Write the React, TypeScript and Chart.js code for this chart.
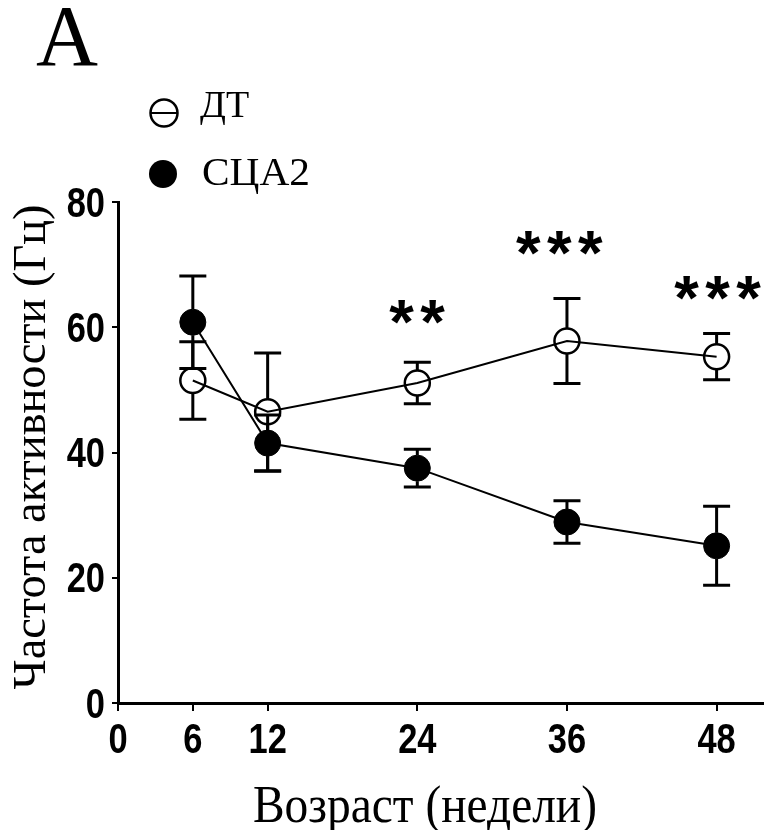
import React, { useEffect, useRef } from "react";
import { Chart, registerables } from "chart.js";

Chart.register(...registerables);

// ---- data ----
const weeks = [6, 12, 24, 36, 48];
const dtMean = [51.5, 46.5, 51.1, 57.8, 55.3];
const dtErr = [6.2, 9.4, 3.3, 6.8, 3.7];
const scaMean = [60.8, 41.5, 37.5, 28.9, 25.1];
const scaErr = [7.4, 4.5, 3.0, 3.4, 6.3];
const xTicks = [0, 6, 12, 24, 36, 48];
const yTicks = [0, 20, 40, 60, 80];
const sigX = [24, 35.4, 48.1];
const sigY = [62.4, 73.5, 66.3];
const sigLabels = ["**", "***", "***"];
const seriesNames = ["ДТ", "СЦА2"];
const panelLabel = "A";
const xTitle = "Возраст (недели)";
const yTitle = "Частота активности (Гц)";

const SERIF = "'Liberation Serif', 'Times New Roman', Times, serif";
const SANS = "'Liberation Sans', Arial, Helvetica, sans-serif";

function fitText(ctx: CanvasRenderingContext2D, text: string, x: number, y: number, font: string, width: number | null, align: CanvasTextAlign) {
  ctx.save();
  ctx.font = font;
  const w = ctx.measureText(text).width;
  const s = width ? width / w : 1;
  ctx.translate(x, y);
  ctx.scale(s, 1);
  ctx.textAlign = align;
  ctx.textBaseline = "alphabetic";
  ctx.fillStyle = "#000";
  ctx.fillText(text, 0, 0);
  ctx.restore();
}

// draw bold narrow digits: anchor box given by side
function drawTick(ctx: CanvasRenderingContext2D, text: string, x: number, y: number, mode: "right-middle" | "center-top") {
  const size = 42;
  const sx = 0.82;
  ctx.save();
  ctx.font = `bold ${size}px ${SANS}`;
  ctx.fillStyle = "#000";
  const m = ctx.measureText(text);
  const w = m.width * sx;
  const asc = m.actualBoundingBoxAscent;
  const desc = m.actualBoundingBoxDescent;
  let left: number;
  let base: number;
  if (mode === "right-middle") {
    left = x - w;
    base = y - (desc - asc) / 2;
  } else {
    left = x - w / 2;
    base = y + asc;
  }
  ctx.translate(left, base);
  ctx.scale(sx, 1);
  ctx.textAlign = "left";
  ctx.textBaseline = "alphabetic";
  ctx.fillText(text, 0, 0);
  ctx.restore();
}

const decorPlugin = {
  id: "decor",
  afterDatasetsDraw(chart: any) {
    const ctx: CanvasRenderingContext2D = chart.ctx;
    const ys = chart.scales.y;
    const xs = chart.scales.x;
    const errs = [dtErr, scaErr];
    const means = [dtMean, scaMean];
    const radii = [13, 13];
    ctx.save();
    ctx.strokeStyle = "#000";
    ctx.lineWidth = 3;
    ctx.lineCap = "butt";
    for (let d = 0; d < 2; d++) {
      const meta = chart.getDatasetMeta(d);
      meta.data.forEach((pt: any, j: number) => {
        const x = pt.x;
        const yc = pt.y;
        const r = radii[d];
        const yTop = ys.getPixelForValue(means[d][j] + errs[d][j]);
        const yBot = ys.getPixelForValue(means[d][j] - errs[d][j]);
        ctx.beginPath();
        if (yTop < yc - r) {
          ctx.moveTo(x, yc - r);
          ctx.lineTo(x, yTop);
        }
        ctx.moveTo(x - 13.5, yTop);
        ctx.lineTo(x + 13.5, yTop);
        if (yBot > yc + r) {
          ctx.moveTo(x, yc + r);
          ctx.lineTo(x, yBot);
        }
        ctx.moveTo(x - 13.5, yBot);
        ctx.lineTo(x + 13.5, yBot);
        ctx.stroke();
      });
    }
    ctx.restore();

    // significance stars
    ctx.save();
    ctx.fillStyle = "#000";
    ctx.font = `bold 100px ${SANS}`;
    const m = ctx.measureText("*");
    const gh = m.actualBoundingBoxAscent + m.actualBoundingBoxDescent;
    const size = (24 / gh) * 100;
    ctx.font = `bold ${size}px ${SANS}`;
    const m2 = ctx.measureText("*");
    const asc = m2.actualBoundingBoxAscent;
    const desc = m2.actualBoundingBoxDescent;
    const left = m2.actualBoundingBoxLeft;
    const right = m2.actualBoundingBoxRight;
    ctx.textAlign = "left";
    ctx.textBaseline = "alphabetic";
    sigLabels.forEach((lab, i) => {
      const cx = xs.getPixelForValue(sigX[i]);
      const cy = ys.getPixelForValue(sigY[i]);
      const n = lab.length;
      for (let k = 0; k < n; k++) {
        const gx = cx + (k - (n - 1) / 2) * 31;
        const bx = gx - (right - left) / 2;
        const by = cy - (desc - asc) / 2;
        ctx.fillText("*", bx, by);
      }
    });
    ctx.restore();
  },
  afterDraw(chart: any) {
    const ctx: CanvasRenderingContext2D = chart.ctx;
    const xs = chart.scales.x;
    const ys = chart.scales.y;
    // tick labels
    yTicks.forEach((v) => {
      drawTick(ctx, String(v), ys.right - 13, ys.getPixelForValue(v), "right-middle");
    });
    xTicks.forEach((v) => {
      drawTick(ctx, String(v), xs.getPixelForValue(v), xs.top + 21, "center-top");
    });
    // panel label
    fitText(ctx, panelLabel, 36, 65, `86px ${SERIF}`, 62, "left");
    // legend
    ctx.save();
    ctx.strokeStyle = "#000";
    ctx.lineWidth = 2.5;
    ctx.beginPath();
    ctx.arc(164, 113, 13.5, 0, Math.PI * 2);
    ctx.stroke();
    ctx.lineWidth = 2;
    ctx.beginPath();
    ctx.moveTo(151, 113);
    ctx.lineTo(177, 113);
    ctx.stroke();
    ctx.fillStyle = "#000";
    ctx.beginPath();
    ctx.arc(163, 174, 14, 0, Math.PI * 2);
    ctx.fill();
    ctx.restore();
    fitText(ctx, seriesNames[0], 200, 117, `38px ${SERIF}`, null, "left");
    fitText(ctx, seriesNames[1], 202, 185, `39px ${SERIF}`, 108, "left");
    // axis titles
    fitText(ctx, xTitle, 253, 822, `52px ${SERIF}`, 344, "left");
    ctx.save();
    ctx.translate(45, 447);
    ctx.rotate(-Math.PI / 2);
    fitText(ctx, yTitle, 0, 0, `46px ${SERIF}`, 485, "center");
    ctx.restore();
  },
};

export default function App() {
  const ref = useRef<HTMLCanvasElement | null>(null);
  useEffect(() => {
    document.body.style.margin = "0";
    const canvas = ref.current!;
    const zeroPad = (s: any) => {
      s.paddingLeft = 0;
      s.paddingRight = 0;
      s.paddingTop = 0;
      s.paddingBottom = 0;
    };
    const chart = new Chart(canvas, {
      type: "line",
      data: {
        datasets: [
          {
            label: seriesNames[0],
            data: weeks.map((w, i) => ({ x: w, y: dtMean[i] })),
            borderColor: "#000",
            borderWidth: 2,
            backgroundColor: "rgba(255,255,255,0)",
            pointBackgroundColor: "rgba(255,255,255,0)",
            pointBorderColor: "#000",
            pointBorderWidth: 2.5,
            pointRadius: 12.5,
            pointHoverRadius: 12.5,
            tension: 0,
            clip: false as any,
          },
          {
            label: seriesNames[1],
            data: weeks.map((w, i) => ({ x: w, y: scaMean[i] })),
            borderColor: "#000",
            borderWidth: 2,
            backgroundColor: "#000",
            pointBackgroundColor: "#000",
            pointBorderColor: "#000",
            pointBorderWidth: 1,
            pointRadius: 13,
            pointHoverRadius: 13,
            tension: 0,
            clip: false as any,
          },
        ],
      },
      options: {
        responsive: false,
        animation: false,
        events: [],
        layout: { autoPadding: false, padding: { left: 0, right: 0, top: 202, bottom: 67 } },
        plugins: { legend: { display: false }, tooltip: { enabled: false } },
        scales: {
          x: {
            type: "linear",
            min: 0,
            max: 51.8,
            afterBuildTicks: (s: any) => {
              s.ticks = xTicks.map((v) => ({ value: v }));
            },
            afterFit: (s: any) => {
              s.height = 60;
              zeroPad(s);
            },
            border: { display: true, color: "#000", width: 3 },
            grid: { drawOnChartArea: false, drawTicks: true, tickLength: 8, color: "#000", lineWidth: 2 },
            ticks: { display: false, autoSkip: false },
          },
          y: {
            type: "linear",
            min: 0,
            max: 80,
            afterBuildTicks: (s: any) => {
              s.ticks = yTicks.map((v) => ({ value: v }));
            },
            afterFit: (s: any) => {
              s.width = 118;
              zeroPad(s);
            },
            border: { display: true, color: "#000", width: 3 },
            grid: { drawOnChartArea: false, drawTicks: true, tickLength: 6, color: "#000", lineWidth: 2 },
            ticks: { display: false, autoSkip: false },
          },
        },
      },
      plugins: [decorPlugin],
    });
    return () => chart.destroy();
  }, []);
  return (
    <canvas ref={ref} width={764} height={830} style={{ display: "block" }} />
  );
}
